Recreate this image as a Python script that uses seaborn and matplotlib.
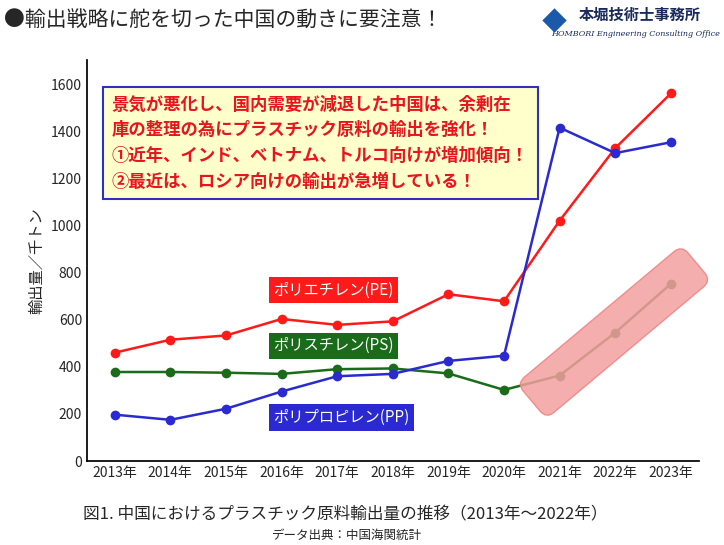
import matplotlib
matplotlib.use("Agg")
import matplotlib.pyplot as plt
import seaborn as sns
import pandas as pd
from matplotlib.patches import FancyBboxPatch
import matplotlib.transforms as mtransforms

years = ["2013年","2014年","2015年","2016年","2017年","2018年","2019年","2020年","2021年","2022年","2023年"]
pe = [460, 515, 533, 603, 578, 593, 708, 678, 1020, 1328, 1560]
ps = [378, 378, 375, 370, 390, 393, 372, 302, 363, 545, 752]
pp = [197, 175, 222, 295, 360, 370, 425, 447, 1415, 1307, 1353]

sns.set_theme(style="white")
plt.rcParams['font.family'] = ['Noto Sans CJK JP', 'DejaVu Sans']

fig = plt.figure(figsize=(7.24, 5.45), dpi=100)
ax = fig.add_axes([0.12, 0.154, 0.845, 0.735])
x = list(range(len(years)))
df = pd.DataFrame({"x": x * 3, "v": pe + ps + pp,
                   "s": ["PE"] * 11 + ["PS"] * 11 + ["PP"] * 11})
pal = {"PE": "#ff1a1a", "PS": "#1a6b1a", "PP": "#2a2ad0"}
sns.lineplot(data=df, x="x", y="v", hue="s", palette=pal, marker="o",
             markersize=7, markeredgewidth=0, linewidth=1.8, legend=False, ax=ax, zorder=3)
ax.set_xlim(-0.5, 10.5)
ax.set_ylim(0, 1700)
ax.set_xticks(x)
ax.set_xticklabels(years, fontsize=10)
ax.set_yticks(range(0, 1601, 200))
ax.tick_params(axis='y', labelsize=10, length=0)
ax.tick_params(axis='x', length=0)
for s in ["top", "right"]:
    ax.spines[s].set_visible(False)
for s in ["left", "bottom"]:
    ax.spines[s].set_color("black")
ax.set_xlabel("")
ax.set_ylabel("輸出量／千トン", fontsize=11)

# pink highlight (pixel space, origin bottom-left)
cx, cy, L, H = 614, 213, 215, 46
hl = FancyBboxPatch((cx - L / 2, cy - H / 2), L, H, boxstyle="round,pad=0,rounding_size=10",
                    transform=mtransforms.Affine2D().rotate_deg_around(cx, cy, 40) + mtransforms.IdentityTransform(),
                    facecolor="#f4a0a0", edgecolor="#f08080", alpha=0.85, zorder=1)
fig.patches.append(hl)
ax.set_facecolor("none")

ax.text(2.85, 725, "ポリエチレン(PE)", color="white", fontsize=11, ha="left", va="center",
        bbox=dict(boxstyle="square,pad=0.3", fc="#ff1a1a", ec="none"), zorder=4)
ax.text(2.85, 490, "ポリスチレン(PS)", color="white", fontsize=11, ha="left", va="center",
        bbox=dict(boxstyle="square,pad=0.3", fc="#1a6b1a", ec="none"), zorder=4)
ax.text(2.85, 185, "ポリプロピレン(PP)", color="white", fontsize=11, ha="left", va="center",
        bbox=dict(boxstyle="square,pad=0.3", fc="#2a2ad0", ec="none"), zorder=4)

msg = ("景気が悪化し、国内需要が減退した中国は、余剰在\n"
       "庫の整理の為にプラスチック原料の輸出を強化！\n"
       "①近年、インド、ベトナム、トルコ向けが増加傾向！\n"
       "②最近は、ロシア向けの輸出が急増している！")
ax.text(-0.05, 1350, msg, color="#e8141e", fontsize=12.5, fontweight="bold",
        ha="left", va="center", linespacing=1.55,
        bbox=dict(boxstyle="square,pad=0.5", fc="#ffffcc", ec="#3030c0", lw=1.5), zorder=4)

fig.text(0.005, 0.963, "●輸出戦略に舵を切った中国の動きに要注意！", fontsize=15, ha="left", va="center")
fig.text(0.8, 0.972, "本堀技術士事務所", fontsize=11, fontweight="bold", ha="left", va="center", color="#1a2a5a")
fig.text(0.995, 0.937, "HOMBORI Engineering Consulting Office", fontsize=5.8, style="italic",
         ha="right", va="center", color="#1a2a5a", family="DejaVu Serif")
fig.text(0.765, 0.958, "◆", fontsize=18, ha="center", va="center", color="#1a5aa8")

fig.text(0.115, 0.055, "図1. 中国におけるプラスチック原料輸出量の推移（2013年～2022年）", fontsize=12, ha="left", va="center")
fig.text(0.375, 0.017, "データ出典：中国海関統計", fontsize=9, ha="left", va="center")

fig.savefig("out.png", dpi=100)
